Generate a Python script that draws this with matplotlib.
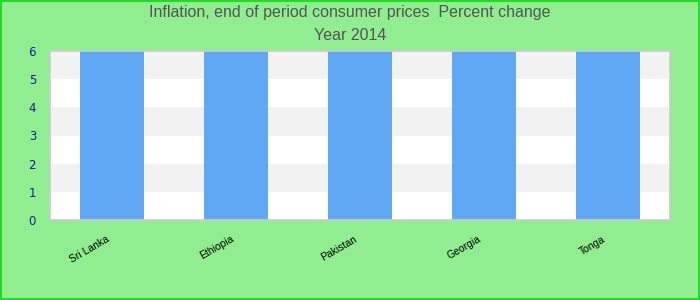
import matplotlib.pyplot as plt
import matplotlib.transforms as mtransforms

countries = ['Sri Lanka', 'Ethiopia', 'Pakistan', 'Georgia', 'Tonga']
values = [6, 6, 6, 6, 6]
y_ticks = [0, 1, 2, 3, 4, 5, 6]

fig = plt.figure(figsize=(7, 3), dpi=100, facecolor='#90EE90')
ax = fig.add_axes([50 / 700, 80 / 300, 620 / 700, 169 / 300])
ax.set_facecolor('white')

# alternating bands
for i in range(len(y_ticks) - 1):
    if i % 2 == 1:
        ax.axhspan(y_ticks[i], y_ticks[i + 1], color='#F2F2F2', zorder=0, lw=0)

x = range(len(countries))
ax.bar(x, values, width=0.51, color='#60A8F4', zorder=2)

ax.set_xlim(-0.5, len(countries) - 0.5)
ax.set_ylim(0, 6)
ax.set_yticks(y_ticks)
ax.set_yticklabels([str(t) for t in y_ticks], color='#1A1A99', fontsize=8.5)
ax.set_xticks(list(x))
ax.set_xticklabels(countries, rotation=30, ha='right', rotation_mode='anchor',
                   fontsize=7.5, family='Liberation Sans')
ax.tick_params(length=0)
ax.tick_params(axis='y', pad=10)
ax.tick_params(axis='x', pad=10)
shift = mtransforms.ScaledTranslation(-6 / 100, 0, fig.dpi_scale_trans)
for lab in ax.get_xticklabels():
    lab.set_transform(lab.get_transform() + shift)
for s in ax.spines.values():
    s.set_color('#CCCCCC')
    s.set_linewidth(1.2)

fig.text(0.5, 1 - 13 / 300, 'Inflation, end of period consumer prices  Percent change',
         ha='center', va='center', fontsize=11.5, color='#555555', family='Liberation Sans')
fig.text(0.5, 1 - 36 / 300, 'Year 2014',
         ha='center', va='center', fontsize=11.5, color='#555555', family='Liberation Sans')

# outer border
fig.patches.append(plt.Rectangle((0.001, 0.002), 0.998, 0.996, transform=fig.transFigure,
                                 fill=False, edgecolor='#22DD22', linewidth=1.5))

fig.savefig('out.png', dpi=100, facecolor=fig.get_facecolor())
